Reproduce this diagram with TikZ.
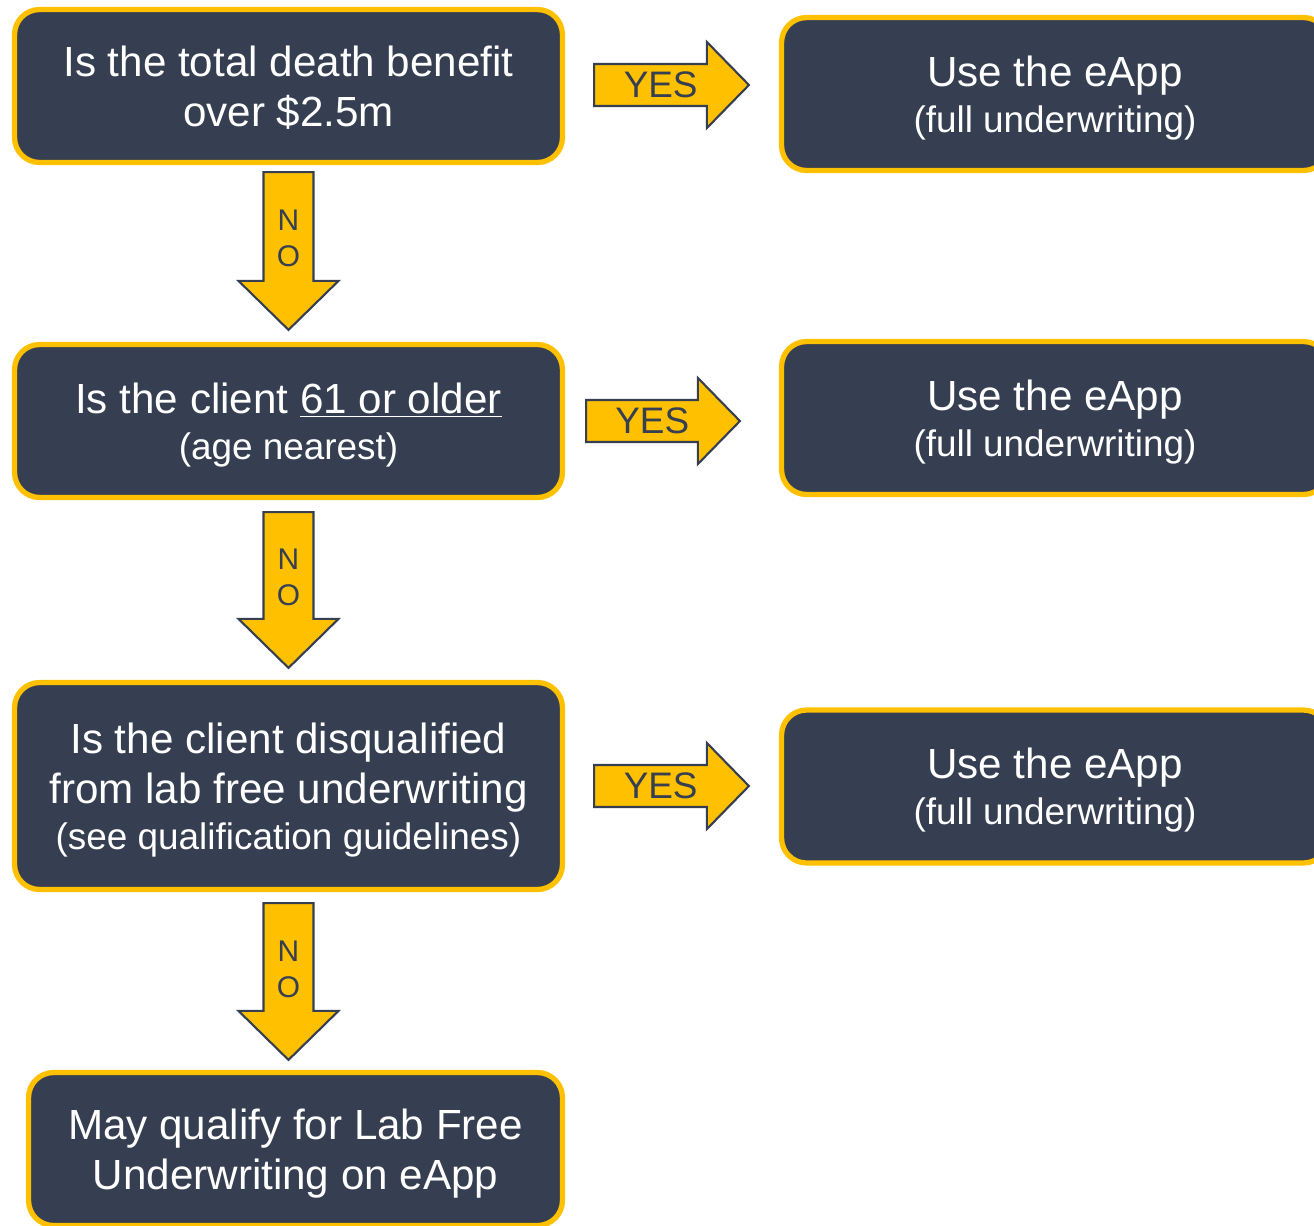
\documentclass[tikz,border=0pt]{standalone}
\usepackage{fontspec}
\setmainfont{Liberation Sans}
\usetikzlibrary{calc}

\definecolor{navy}{RGB}{53,63,81}
\definecolor{gold}{RGB}{255,192,0}

\newcommand{\subtext}[1]{{\fontsize{21}{25}\selectfont #1}}

% block arrows, tail #1 to tip #2
\newcommand{\yesarrow}[2]{%
  \draw[blockarrow] ($(#1)+(0,-21)$) -- ($(#2)+(-42,-21)$) -- ($(#2)+(-42,-43)$)
    -- (#2) -- ($(#2)+(-42,43)$) -- ($(#2)+(-42,21)$) -- ($(#1)+(0,21)$) -- cycle;}
\newcommand{\noarrow}[2]{%
  \draw[blockarrow] ($(#1)+(-25,0)$) -- ($(#2)+(-25,-49)$) -- ($(#2)+(-50,-49)$)
    -- (#2) -- ($(#2)+(50,-49)$) -- ($(#2)+(25,-49)$) -- ($(#1)+(25,0)$) -- cycle;}

\begin{document}
\begin{tikzpicture}[x=0.02cm,y=-0.02cm,
  qbox/.style={draw=gold,line width=3pt,fill=navy,rounded corners=0.5cm,
    text=white,align=center,font=\fontsize{24}{28.5}\selectfont,text depth=0pt,
    minimum width=10.96cm,minimum height=3.06cm,inner sep=0pt},
  abox/.style={qbox,minimum width=10.94cm},
  blockarrow/.style={draw=navy,fill=gold,line width=1.2pt,line join=miter},
  yeslbl/.style={text=navy,inner sep=0pt,font=\fontsize{21}{25}\selectfont},
  nolbl/.style={text=navy,inner sep=0pt,align=center,font=\fontsize{17}{20.5}\selectfont}]

\useasboundingbox (0,0) rectangle (1314,1225);
\clip (0,0) rectangle (1314,1225);

% questions
\node[qbox] (q1) at (288.5,86) {Is the total death benefit\\over \$2.5m};
\node[qbox] (q2) at (288.5,421) {Is the client \underline{61 or older}\\[-2.5pt]\subtext{(age nearest)}};
\node[qbox,minimum height=4.14cm] (q3) at (288.5,786) {Is the client disqualified\\from lab free underwriting\\[-2.5pt]\subtext{(see qualification guidelines)}};
\node[qbox,minimum width=10.68cm] (q4) at (295.5,1149) {May qualify for Lab Free\\Underwriting on eApp};

% answers
\node[abox] (a1) at (1055,94) {Use the eApp\\[-2.5pt]\subtext{(full underwriting)}};
\node[abox] (a2) at (1055,418) {Use the eApp\\[-2.5pt]\subtext{(full underwriting)}};
\node[abox] (a3) at (1055,786.5) {Use the eApp\\[-2.5pt]\subtext{(full underwriting)}};

% yes
\coordinate (y1s) at ($(q1.east)+(29,-1)$);
\coordinate (y1e) at ($(a1.west |- y1s)+(-30,0)$);
\coordinate (y2s) at ($(q2.east)+(21,0)$);
\coordinate (y2e) at ($(a2.west |- y2s)+(-39,0)$);
\coordinate (y3s) at ($(q3.east)+(29,0)$);
\coordinate (y3e) at ($(a3.west |- y3s)+(-30,0)$);
\yesarrow{y1s}{y1e}
\yesarrow{y2s}{y2e}
\yesarrow{y3s}{y3e}
\node[yeslbl] (yes1) at ($(y1s)!0.43!(y1e)$) {YES};
\node[yeslbl] (yes2) at ($(y2s)!0.43!(y2e)$) {YES};
\node[yeslbl] (yes3) at ($(y3s)!0.43!(y3e)$) {YES};

% no
\coordinate (d1s) at ($(q1.south)+(0,7)$);
\coordinate (d1e) at ($(q2.north)+(0,-12)$);
\coordinate (d2s) at ($(q2.south)+(0,12)$);
\coordinate (d2e) at ($(q3.north)+(0,-12)$);
\coordinate (d3s) at ($(q3.south)+(0,11)$);
\coordinate (d3e) at ($(q4.north -| q3.south)+(0,-10)$);
\noarrow{d1s}{d1e}
\noarrow{d2s}{d2e}
\noarrow{d3s}{d3e}
\node[nolbl] (no1) at ($(d1s)!0.42!(d1e)$) {N\\O};
\node[nolbl] (no2) at ($(d2s)!0.42!(d2e)$) {N\\O};
\node[nolbl] (no3) at ($(d3s)!0.42!(d3e)$) {N\\O};

\end{tikzpicture}
\end{document}
